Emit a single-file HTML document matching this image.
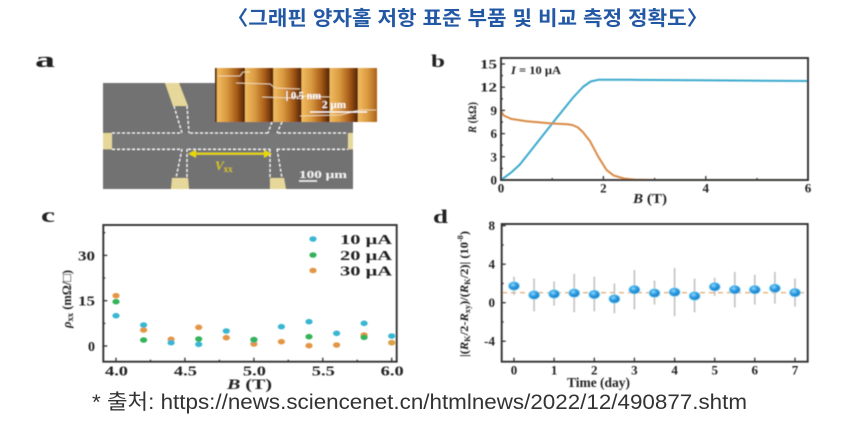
<!DOCTYPE html>
<html><head><meta charset="utf-8"><style>
html,body{margin:0;padding:0;background:#fff;width:860px;height:424px;overflow:hidden}
svg{display:block}
.t{font-family:"Liberation Serif",serif;font-weight:bold;fill:#222}
</style></head><body>
<svg width="860" height="424" viewBox="0 0 860 424" xmlns="http://www.w3.org/2000/svg">
<defs>
<filter id="soft" x="0" y="0" width="1" height="1"><feGaussianBlur stdDeviation="0.45"/></filter>
<pattern id="afm" x="216.8" y="0" width="28.2" height="424" patternUnits="userSpaceOnUse">
<rect x="0" y="0" width="28.2" height="424" fill="url(#stripe)"/>
</pattern>
<linearGradient id="stripe" x1="0" y1="0" x2="1" y2="0">
<stop offset="0" stop-color="#f2bc62"/>
<stop offset="0.35" stop-color="#d99a40"/>
<stop offset="0.7" stop-color="#a85c18"/>
<stop offset="0.92" stop-color="#6a3208"/>
<stop offset="1" stop-color="#4a2004"/>
</linearGradient>
<radialGradient id="ball" cx="0.4" cy="0.35" r="0.7">
<stop offset="0" stop-color="#8fd8ff"/>
<stop offset="0.45" stop-color="#2c9be0"/>
<stop offset="1" stop-color="#1675c0"/>
</radialGradient>
</defs>
<rect x="0" y="0" width="860" height="424" fill="#fff"/>

<!-- Title -->
<text x="227" y="25" font-family="'Liberation Sans','Noto Sans CJK KR',sans-serif" font-weight="bold" font-size="20" fill="#2358a5" textLength="481" lengthAdjust="spacingAndGlyphs">〈그래핀 양자홀 저항 표준 부품 및 비교 측정 정확도〉</text>

<g filter="url(#soft)">
<!-- Panel a -->
<text class="t" x="35" y="67" font-size="22" textLength="20" lengthAdjust="spacingAndGlyphs">a</text>
<rect x="103" y="83" width="250" height="106" fill="#727272"/>
<rect x="112" y="133" width="236" height="16.3" fill="#787878"/>
<rect x="103" y="133" width="9" height="16.3" fill="#e6d89a"/>
<rect x="348" y="133" width="5" height="16.3" fill="#e6d89a"/>
<polygon points="165,83 179,83 188,106 173,106" fill="#e6d89a"/>
<polygon points="172,178 188,178 189,189 171,189" fill="#e6d89a"/>
<polygon points="270,178 284,178 286,189 270,189" fill="#e6d89a"/>
<g stroke="#f4f4f4" stroke-width="1.3" stroke-dasharray="3,2" fill="none">
<line x1="112" y1="133" x2="182" y2="133"/>
<line x1="190" y1="133" x2="268" y2="133"/>
<line x1="278" y1="133" x2="348" y2="133"/>
<line x1="112" y1="149.3" x2="181" y2="149.3"/>
<line x1="188" y1="149.3" x2="270" y2="149.3"/>
<line x1="277" y1="149.3" x2="348" y2="149.3"/>
<line x1="174" y1="106" x2="182" y2="133"/>
<line x1="187" y1="106" x2="189" y2="133"/>
<line x1="272" y1="122" x2="268" y2="133"/>
<line x1="282" y1="122" x2="277" y2="133"/>
<line x1="182" y1="149" x2="176" y2="178"/>
<line x1="187" y1="149" x2="187" y2="178"/>
<line x1="270" y1="149" x2="270" y2="178"/>
<line x1="277" y1="149" x2="282" y2="178"/>
</g>
<g stroke="#e8d800" stroke-width="2.2" fill="#e8d800">
<line x1="194" y1="153.7" x2="266" y2="153.7"/>
<polygon points="188,153.7 196,149.7 196,157.7" stroke="none"/>
<polygon points="272,153.7 264,149.7 264,157.7" stroke="none"/>
</g>
<text x="215" y="170" font-family="'Liberation Serif',serif" font-style="italic" font-weight="bold" font-size="13" fill="#d4c200">V<tspan font-size="9" dy="2" font-style="normal">xx</tspan></text>
<text x="299" y="178" font-family="'Liberation Serif',serif" font-weight="bold" font-size="11" fill="#f2f2f2" textLength="48" lengthAdjust="spacingAndGlyphs">100 μm</text>
<line x1="299" y1="181" x2="317" y2="181" stroke="#f2f2f2" stroke-width="1.5"/>
<rect x="215" y="68" width="162" height="54" fill="url(#afm)"/>
<polyline points="218,76 240,76 243,72 250,72" stroke="#f6e6c8" stroke-width="0.8" fill="none"/>
<polyline points="236,83 270,84 275,88 300,89" stroke="#f6e6c8" stroke-width="0.8" fill="none"/>
<polyline points="262,97 290,98 300,96 330,97" stroke="#f6e6c8" stroke-width="0.8" fill="none"/>
<polyline points="300,116 340,115 360,110 376,110" stroke="#f6e6c8" stroke-width="0.8" fill="none"/>
<line x1="287" y1="91" x2="287" y2="101" stroke="#fff" stroke-width="1"/>
<text x="291" y="99" font-family="'Liberation Serif',serif" font-weight="bold" font-size="10" fill="#fff" textLength="30" lengthAdjust="spacingAndGlyphs">0.5 nm</text>
<text x="322" y="108" font-family="'Liberation Serif',serif" font-weight="bold" font-size="10" fill="#fff" textLength="24" lengthAdjust="spacingAndGlyphs">2 μm</text>
<line x1="310" y1="112" x2="367" y2="112" stroke="#fff" stroke-width="1.3"/>

<!-- Panel b -->
<text class="t" x="431" y="67" font-size="18" textLength="14" lengthAdjust="spacingAndGlyphs">b</text>
<g stroke="#333" stroke-width="1.3">
<line x1="501" y1="180" x2="505" y2="180"/><line x1="501" y1="156.8" x2="505" y2="156.8"/><line x1="501" y1="133.6" x2="505" y2="133.6"/><line x1="501" y1="110.4" x2="505" y2="110.4"/><line x1="501" y1="87.2" x2="505" y2="87.2"/><line x1="501" y1="64" x2="505" y2="64"/>
<line x1="501" y1="168.4" x2="503" y2="168.4"/><line x1="501" y1="145.2" x2="503" y2="145.2"/><line x1="501" y1="122" x2="503" y2="122"/><line x1="501" y1="98.8" x2="503" y2="98.8"/><line x1="501" y1="75.6" x2="503" y2="75.6"/>
<line x1="603.4" y1="180" x2="603.4" y2="176"/><line x1="705.8" y1="180" x2="705.8" y2="176"/>
<line x1="552.2" y1="180" x2="552.2" y2="178"/><line x1="654.6" y1="180" x2="654.6" y2="178"/><line x1="757" y1="180" x2="757" y2="178"/>
</g>
<path d="M501,180 L511.2,172.5 L519.9,164.5 L526.6,156 L552.2,123.5 L572.7,98 L582.9,87 L590.6,81.5 L598.3,79.8 L629,79.8 L700,80.3 L808,81" stroke="#3aa9cc" stroke-width="2" fill="none" stroke-linejoin="round"/>
<path d="M501,111 L503.6,115.5 L511.2,118.9 L526.6,121.2 L552.2,123.5 L567.6,124.3 L572.7,125.1 L577.8,127.4 L582.9,132.1 L590.1,141.3 L598.3,156.8 L606.5,169.9 L613.6,175.4 L623.9,178.5 L634.1,179.6 L654.6,180 L808,180" stroke="#d98a45" stroke-width="2" fill="none" stroke-linejoin="round"/>
<rect x="501" y="58" width="307" height="122" fill="none" stroke="#333" stroke-width="1.9"/>
<g class="t" font-size="13" text-anchor="end">
<text x="497" y="184.5">0</text><text x="497" y="161.3">3</text><text x="497" y="138.1">6</text><text x="497" y="114.9">9</text><text x="497" y="91.7" textLength="17" lengthAdjust="spacingAndGlyphs">12</text><text x="497" y="68.5" textLength="17" lengthAdjust="spacingAndGlyphs">15</text>
</g>
<g class="t" font-size="13" text-anchor="middle">
<text x="501" y="192.5">0</text><text x="603.4" y="192.5">2</text><text x="705.8" y="192.5">4</text><text x="808" y="192.5">6</text>
</g>
<text class="t" x="633" y="203" font-size="14" textLength="34" lengthAdjust="spacingAndGlyphs"><tspan font-style="italic">B</tspan> (T)</text>
<text class="t" x="0" y="0" font-size="12" transform="translate(476,133) rotate(-90)" textLength="31" lengthAdjust="spacingAndGlyphs"><tspan font-style="italic">R</tspan> (kΩ)</text>
<text class="t" x="511" y="74" font-size="12" textLength="50" lengthAdjust="spacingAndGlyphs"><tspan font-style="italic">I</tspan> = 10 μA</text>

<!-- Panel c -->
<text class="t" x="41" y="222" font-size="20" textLength="14" lengthAdjust="spacingAndGlyphs">c</text>
<g stroke="#333" stroke-width="1.3">
<line x1="103.3" y1="346" x2="107.3" y2="346"/><line x1="103.3" y1="300.7" x2="107.3" y2="300.7"/><line x1="103.3" y1="255.4" x2="107.3" y2="255.4"/>
<line x1="103.3" y1="323.4" x2="105.3" y2="323.4"/><line x1="103.3" y1="278" x2="105.3" y2="278"/><line x1="103.3" y1="232.7" x2="105.3" y2="232.7"/>
<line x1="116" y1="361.7" x2="116" y2="357.7"/><line x1="184.9" y1="361.7" x2="184.9" y2="357.7"/><line x1="253.9" y1="361.7" x2="253.9" y2="357.7"/><line x1="322.8" y1="361.7" x2="322.8" y2="357.7"/><line x1="391.7" y1="361.7" x2="391.7" y2="357.7"/>
<line x1="150.5" y1="361.7" x2="150.5" y2="359.7"/><line x1="219.4" y1="361.7" x2="219.4" y2="359.7"/><line x1="288.3" y1="361.7" x2="288.3" y2="359.7"/><line x1="357.2" y1="361.7" x2="357.2" y2="359.7"/>
</g>
<rect x="103.3" y="225" width="293.4" height="136.7" fill="none" stroke="#333" stroke-width="1.9"/>
<g fill="#e39545">
<ellipse cx="116" cy="295.7" rx="3.6" ry="2.8"/><ellipse cx="143.6" cy="330" rx="3.6" ry="2.8"/><ellipse cx="171.1" cy="339.3" rx="3.6" ry="2.8"/><ellipse cx="198.7" cy="327.3" rx="3.6" ry="2.8"/><ellipse cx="226.3" cy="337.7" rx="3.6" ry="2.8"/><ellipse cx="253.9" cy="344" rx="3.6" ry="2.8"/><ellipse cx="281.4" cy="341.7" rx="3.6" ry="2.8"/><ellipse cx="309" cy="345.7" rx="3.6" ry="2.8"/><ellipse cx="336.6" cy="345" rx="3.6" ry="2.8"/><ellipse cx="364.1" cy="335" rx="3.6" ry="2.8"/><ellipse cx="391.7" cy="342.7" rx="3.6" ry="2.8"/>
<ellipse cx="313" cy="270.5" rx="3.6" ry="2.8"/>
</g>
<g fill="#38b6d2">
<ellipse cx="116" cy="315.7" rx="3.6" ry="2.8"/><ellipse cx="143.6" cy="325" rx="3.6" ry="2.8"/><ellipse cx="171.1" cy="342.7" rx="3.6" ry="2.8"/><ellipse cx="198.7" cy="344.3" rx="3.6" ry="2.8"/><ellipse cx="226.3" cy="331" rx="3.6" ry="2.8"/><ellipse cx="253.9" cy="340" rx="3.6" ry="2.8"/><ellipse cx="281.4" cy="326.7" rx="3.6" ry="2.8"/><ellipse cx="309" cy="321.7" rx="3.6" ry="2.8"/><ellipse cx="336.6" cy="333.3" rx="3.6" ry="2.8"/><ellipse cx="364.1" cy="323.3" rx="3.6" ry="2.8"/><ellipse cx="391.7" cy="336" rx="3.6" ry="2.8"/>
<ellipse cx="313" cy="239" rx="3.6" ry="2.8"/>
</g>
<g fill="#36b35a">
<ellipse cx="116" cy="301.7" rx="3.6" ry="2.8"/><ellipse cx="143.6" cy="340" rx="3.6" ry="2.8"/><ellipse cx="198.7" cy="339" rx="3.6" ry="2.8"/><ellipse cx="253.9" cy="339.5" rx="3.6" ry="2.8"/><ellipse cx="309" cy="336.7" rx="3.6" ry="2.8"/><ellipse cx="364.1" cy="337.3" rx="3.6" ry="2.8"/>
<ellipse cx="313" cy="255" rx="3.6" ry="2.8"/>
</g>
<ellipse cx="391.7" cy="342.7" rx="3.6" ry="2.8" fill="#d9a24a"/>
<g class="t" font-size="14">
<text x="340" y="244" textLength="52" lengthAdjust="spacingAndGlyphs">10 μA</text>
<text x="340" y="260" textLength="52" lengthAdjust="spacingAndGlyphs">20 μA</text>
<text x="340" y="275.5" textLength="52" lengthAdjust="spacingAndGlyphs">30 μA</text>
</g>
<g class="t" font-size="14" text-anchor="end">
<text x="95" y="351">0</text><text x="95" y="305.7" textLength="17" lengthAdjust="spacingAndGlyphs">15</text><text x="95" y="260.4" textLength="17" lengthAdjust="spacingAndGlyphs">30</text>
</g>
<g class="t" font-size="14" text-anchor="middle">
<text x="116.5" y="375.5" textLength="23" lengthAdjust="spacingAndGlyphs">4.0</text>
<text x="185.4" y="375.5" textLength="23" lengthAdjust="spacingAndGlyphs">4.5</text>
<text x="254.4" y="375.5" textLength="23" lengthAdjust="spacingAndGlyphs">5.0</text>
<text x="323.3" y="375.5" textLength="23" lengthAdjust="spacingAndGlyphs">5.5</text>
<text x="392.2" y="375.5" textLength="23" lengthAdjust="spacingAndGlyphs">6.0</text>
</g>
<text class="t" x="227" y="389" font-size="15" textLength="45" lengthAdjust="spacingAndGlyphs"><tspan font-style="italic">B</tspan> (T)</text>
<text class="t" x="0" y="0" font-size="13" transform="translate(71,328) rotate(-90)" textLength="58" lengthAdjust="spacingAndGlyphs"><tspan font-style="italic">ρ</tspan><tspan font-size="9" dy="2">xx</tspan><tspan dy="-2"> (mΩ/□)</tspan></text>

<!-- Panel d -->
<text class="t" x="433" y="223" font-size="19" textLength="15" lengthAdjust="spacingAndGlyphs">d</text>
<g stroke="#333" stroke-width="1.3">
<line x1="501.7" y1="225.7" x2="505.7" y2="225.7"/><line x1="501.7" y1="264.2" x2="505.7" y2="264.2"/><line x1="501.7" y1="302.7" x2="505.7" y2="302.7"/><line x1="501.7" y1="341.2" x2="505.7" y2="341.2"/>
<line x1="501.7" y1="245" x2="503.7" y2="245"/><line x1="501.7" y1="283.5" x2="503.7" y2="283.5"/><line x1="501.7" y1="322" x2="503.7" y2="322"/>
<line x1="514" y1="361.7" x2="514" y2="357.7"/><line x1="554.1" y1="361.7" x2="554.1" y2="357.7"/><line x1="594.3" y1="361.7" x2="594.3" y2="357.7"/><line x1="634.4" y1="361.7" x2="634.4" y2="357.7"/><line x1="674.6" y1="361.7" x2="674.6" y2="357.7"/><line x1="714.7" y1="361.7" x2="714.7" y2="357.7"/><line x1="754.8" y1="361.7" x2="754.8" y2="357.7"/><line x1="795" y1="361.7" x2="795" y2="357.7"/>
</g>
<line x1="502" y1="292.7" x2="807" y2="292.7" stroke="#e0a060" stroke-width="1.2" stroke-dasharray="5,4"/>
<g stroke="#c4c4c4" stroke-width="1.7">
<line x1="514" y1="276.7" x2="514" y2="295"/>
<line x1="534.1" y1="278.6" x2="534.1" y2="311.4"/>
<line x1="554.1" y1="281.5" x2="554.1" y2="305.6"/>
<line x1="574.2" y1="273.8" x2="574.2" y2="312.3"/>
<line x1="594.3" y1="276.7" x2="594.3" y2="311.4"/>
<line x1="614.4" y1="283.5" x2="614.4" y2="313.3"/>
<line x1="634.4" y1="270" x2="634.4" y2="309.4"/>
<line x1="654.5" y1="280.6" x2="654.5" y2="304.6"/>
<line x1="674.6" y1="268" x2="674.6" y2="316.2"/>
<line x1="694.6" y1="278.6" x2="694.6" y2="312.3"/>
<line x1="714.7" y1="277.7" x2="714.7" y2="296"/>
<line x1="734.8" y1="271.9" x2="734.8" y2="307.5"/>
<line x1="754.8" y1="274.8" x2="754.8" y2="304.6"/>
<line x1="774.9" y1="271.9" x2="774.9" y2="303.7"/>
<line x1="795" y1="278.6" x2="795" y2="306.6"/>
</g>
<g fill="url(#ball)" stroke="#7fd4f4" stroke-width="0.8">
<ellipse cx="514" cy="286" rx="5.5" ry="4.3"/>
<ellipse cx="534.1" cy="295" rx="5.5" ry="4.3"/>
<ellipse cx="554.1" cy="294" rx="5.5" ry="4.3"/>
<ellipse cx="574.2" cy="293.1" rx="5.5" ry="4.3"/>
<ellipse cx="594.3" cy="294.5" rx="5.5" ry="4.3"/>
<ellipse cx="614.4" cy="298.9" rx="5.5" ry="4.3"/>
<ellipse cx="634.4" cy="289.7" rx="5.5" ry="4.3"/>
<ellipse cx="654.5" cy="293.1" rx="5.5" ry="4.3"/>
<ellipse cx="674.6" cy="292.1" rx="5.5" ry="4.3"/>
<ellipse cx="694.6" cy="296" rx="5.5" ry="4.3"/>
<ellipse cx="714.7" cy="286.8" rx="5.5" ry="4.3"/>
<ellipse cx="734.8" cy="289.7" rx="5.5" ry="4.3"/>
<ellipse cx="754.8" cy="289.7" rx="5.5" ry="4.3"/>
<ellipse cx="774.9" cy="288.3" rx="5.5" ry="4.3"/>
<ellipse cx="795" cy="292.6" rx="5.5" ry="4.3"/>
</g>
<rect x="501.7" y="224" width="306" height="137.7" fill="none" stroke="#333" stroke-width="1.9"/>
<g class="t" font-size="13" text-anchor="end">
<text x="495" y="230.2">8</text><text x="495" y="268.7">4</text><text x="495" y="307.2">0</text><text x="495" y="345.7">-4</text>
</g>
<g class="t" font-size="13" text-anchor="middle">
<text x="514" y="374.5">0</text><text x="554.1" y="374.5">1</text><text x="594.3" y="374.5">2</text><text x="634.4" y="374.5">3</text><text x="674.6" y="374.5">4</text><text x="714.7" y="374.5">5</text><text x="754.8" y="374.5">6</text><text x="795" y="374.5">7</text>
</g>
<text class="t" x="567" y="387" font-size="14" textLength="63" lengthAdjust="spacingAndGlyphs">Time (day)</text>
<text class="t" x="0" y="0" font-size="12" transform="translate(468,357) rotate(-90)" textLength="126" lengthAdjust="spacingAndGlyphs">|(<tspan font-style="italic">R</tspan><tspan font-size="8" dy="2">K</tspan><tspan dy="-2">/2-</tspan><tspan font-style="italic">R</tspan><tspan font-size="8" dy="2">xy</tspan><tspan dy="-2">)/(</tspan><tspan font-style="italic">R</tspan><tspan font-size="8" dy="2">K</tspan><tspan dy="-2">/2)| (10</tspan><tspan font-size="8" dy="-5">-8</tspan><tspan dy="5">)</tspan></text>
</g>

<!-- Footer -->
<text x="92" y="409" font-family="'Liberation Sans','Noto Sans CJK KR',sans-serif" font-size="21" fill="#333" textLength="655" lengthAdjust="spacingAndGlyphs">* 출처: https://news.sciencenet.cn/htmlnews/2022/12/490877.shtm</text>
</svg>
</body></html>
